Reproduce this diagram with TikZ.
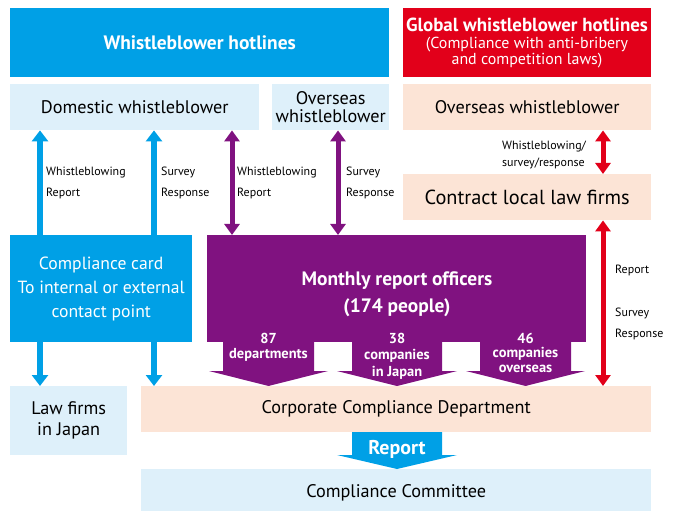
\documentclass[tikz,border=0pt]{standalone}
\usepackage{fontspec}
\setmainfont{PT Sans}
\usetikzlibrary{arrows.meta,calc}
\definecolor{cblue}{RGB}{0,160,230}
\definecolor{cred}{RGB}{226,0,26}
\definecolor{cpurp}{RGB}{128,18,128}
\definecolor{lblue}{RGB}{222,240,250}
\definecolor{peach}{RGB}{252,228,214}
\tikzset{
  BT/.tip={Triangle[width=16bp,length=11bp]},
  PT/.tip={Triangle[width=15bp,length=11bp]},
}
\begin{document}
\begin{tikzpicture}[x=1bp,y=-1bp,
  box/.style={anchor=north west, inner sep=0pt, align=center},
  lab/.style={anchor=west, inner sep=0pt, align=left, font=\fontsize{12}{21}\selectfont},
  big/.style={font=\fontsize{18.3}{#1}\selectfont},
  big/.default=20,
  barrow/.style={draw=cblue, line width=6bp},
  parrow/.style={draw=cpurp, line width=5bp},
  rarrow/.style={draw=cred, line width=5bp},
  wtxt/.style={text=white, inner sep=0pt, align=center},
]
\useasboundingbox (0,0) rectangle (674,511);
% top row
\node[box, fill=cblue, minimum width=379bp, minimum height=69bp, text=white,
  font=\fontsize{19.5}{22}\selectfont\bfseries] (hot) at (10,8) {Whistleblower hotlines};
\node[box, fill=cred, minimum width=248bp, minimum height=69bp] (glob) at (403,8) {};
\node[wtxt, font=\fontsize{19}{22}\selectfont\bfseries] (globt) at (527,25) {Global whistleblower hotlines};
\node[wtxt, font=\fontsize{16}{16}\selectfont] (globs) at (527,53) {(Compliance with anti-bribery\\and competition laws)};
% second row
\node[box, fill=lblue, minimum width=249bp, minimum height=46bp, big] (dom) at (10,84) {Domestic whistleblower};
\node[box, fill=lblue, minimum width=117bp, minimum height=46bp, big=18] (ovm) at (272,84) {Overseas\\whistleblower};
\node[box, fill=peach, minimum width=248bp, minimum height=46bp, big] (ovr) at (403,84) {Overseas whistleblower};
% contract local
\node[box, fill=peach, minimum width=248bp, minimum height=46bp,
  font=\fontsize{20.4}{23}\selectfont] (clf) at (403,174) {Contract local law firms};
% compliance card
\node[box, fill=cblue, minimum width=182bp, minimum height=107bp, text=white,
  font=\fontsize{17.7}{24}\selectfont] (card) at (10,235) {Compliance card\\To internal or external\\contact point};
% monthly
\node[box, fill=cpurp, minimum width=379bp, minimum height=107bp] (mon) at (207,235) {};
\node[wtxt, font=\fontsize{19.5}{27}\selectfont\bfseries] (montxt) at (397,294)
  {Monthly report officers\\(174 people)};
% purple arrow heads
\fill[cpurp] (223,340) -- (314,340) -- (314,371) -- (328,371) -- (268.5,386) -- (209,371) -- (223,371) -- cycle;
\fill[cpurp] (352,340) -- (442,340) -- (442,371) -- (457,371) -- (397,386) -- (337,371) -- (352,371) -- cycle;
\fill[cpurp] (480,340) -- (571,340) -- (571,371) -- (585,371) -- (525.5,386) -- (466,371) -- (480,371) -- cycle;
\node[wtxt, anchor=north, font=\fontsize{14.5}{15.5}\selectfont\bfseries] (a87) at (268.5,333) {87\\departments};
\node[wtxt, anchor=north, font=\fontsize{14.5}{16.5}\selectfont\bfseries] (a38) at (397,333) {38\\companies\\in Japan};
\node[wtxt, anchor=north, font=\fontsize{14.5}{14.5}\selectfont\bfseries] (a46) at (525.5,333) {46\\companies\\overseas};
% bottom boxes
\node[box, fill=lblue, minimum width=117bp, minimum height=69bp, big=21] (law) at (10,386) {Law firms\\in Japan};
\node[box, fill=peach, minimum width=510bp, minimum height=46bp, big] (corp) at (141,386) {Corporate Compliance Department};
\node[box, fill=lblue, minimum width=510bp, minimum height=48bp, big] (comm) at (141,469) {Compliance Committee};
% report arrow
\fill[cblue] (352,432) -- (442,432) -- (442,455) -- (457,455) -- (397,469) -- (337,455) -- (352,455) -- cycle;
\node[wtxt, font=\fontsize{20}{22}\selectfont\bfseries] (rep) at (397,449) {Report};
% x positions
\coordinate (x1) at (40,0);
\coordinate (x2) at (154,0);
\coordinate (x3) at (232,0);
\coordinate (x4) at (338,0);
\coordinate (x5) at (603,0);
% blue arrows
\draw[barrow, BT-] (dom.south -| x1) -- (card.north -| x1);
\draw[barrow, BT-] (dom.south -| x2) -- (card.north -| x2);
\draw[barrow, -BT] (card.south -| x1) -- (law.north -| x1);
\draw[barrow, -BT] (card.south -| x2) -- (corp.north -| x2);
% purple arrows
\draw[parrow, PT-PT] (dom.south -| x3) -- (mon.north -| x3);
\draw[parrow, PT-PT] (ovm.south -| x4) -- (mon.north -| x4);
% red arrows
\draw[rarrow, PT-PT] (ovr.south -| x5) -- (clf.north -| x5);
\draw[rarrow, PT-PT] (clf.south -| x5) -- (corp.north -| x5);
% labels
\node[lab] (l1) at (46,183) {Whistleblowing\\Report};
\node[lab] (l2) at (161,183) {Survey\\Response};
\node[lab] (l3) at (237,183) {Whistleblowing\\Report};
\node[lab] (l4) at (346,183) {Survey\\Response};
\node[lab, font=\fontsize{12}{17}\selectfont] (l5) at (502,155) {Whistleblowing/\\survey/response};
\node[lab] (l6) at (615,270) {Report};
\node[lab] (l7) at (615,324) {Survey\\Response};
\end{tikzpicture}
\end{document}
